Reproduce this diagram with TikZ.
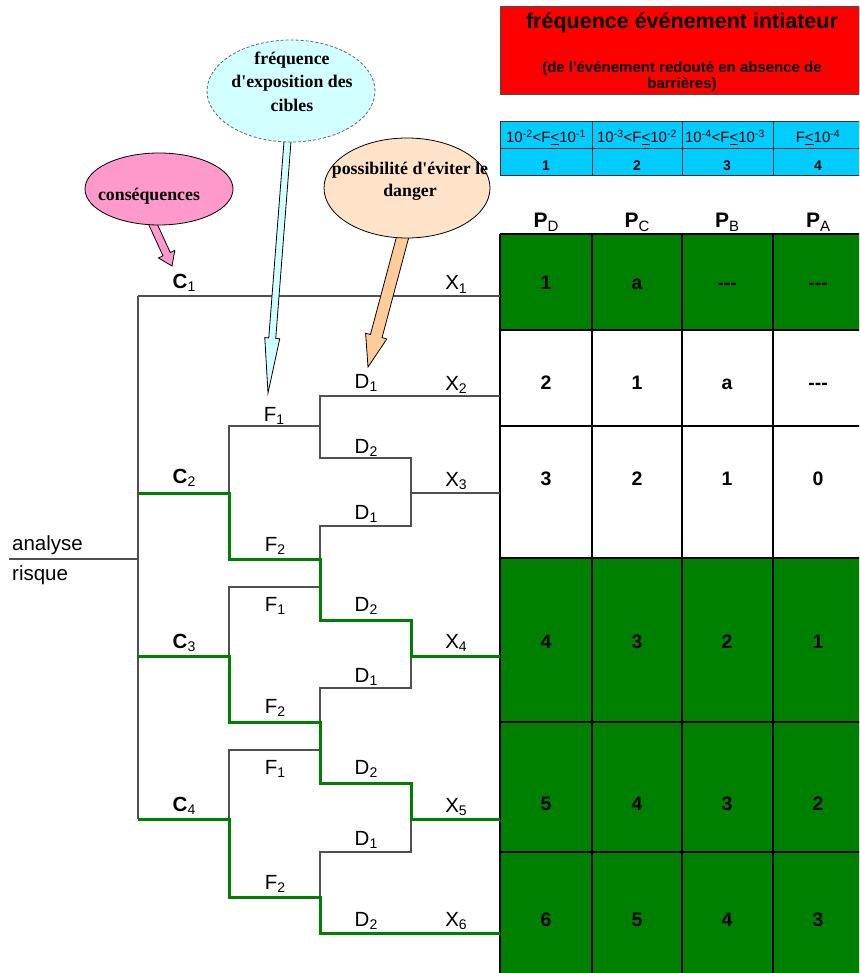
\documentclass[tikz,border=0pt]{standalone}
\usepackage{fontspec}
\setmainfont{Liberation Sans}
\newfontfamily\serifb{Liberation Serif}
\usetikzlibrary{calc,shapes.geometric}
\definecolor{tgreen}{HTML}{008000}
\definecolor{pinkc}{HTML}{FF99CC}
\definecolor{pinkl}{HTML}{FFCCE6}
\definecolor{cyanl}{HTML}{D2FFFF}
\definecolor{orangec}{HTML}{FFCC99}
\definecolor{orangel}{HTML}{FFE3C8}
\definecolor{bluec}{HTML}{00CCFF}
\definecolor{grayline}{HTML}{505050}
\newcommand\sub[1]{\raisebox{-0.15em}{\fontsize{14}{14}\selectfont\mdseries #1}}
\newcommand\hsub[1]{\raisebox{-0.15em}{\fontsize{15}{15}\selectfont\mdseries #1}}
\newcommand\blkarrow[6]{%
  \coordinate (ba-h) at ($(#3)!#6!(#2)$);
  \draw[#1] ($(#2)!#4!90:(#3)$) -- ($(ba-h)!#4!-90:(#2)$) -- ($(ba-h)!#5!-90:(#2)$) -- (#3)
    -- ($(ba-h)!#5!90:(#2)$) -- ($(ba-h)!#4!90:(#2)$) -- ($(#2)!#4!-90:(#3)$) -- cycle;}
\begin{document}
\begin{tikzpicture}[x=1pt,y=-1pt,
  gl/.style={draw=grayline,line width=1.2pt},
  gr/.style={draw=tgreen,line width=3pt},
  lab/.style={anchor=base,inner sep=0pt,font=\fontsize{20.5}{24}\selectfont},
  num/.style={anchor=base,inner sep=0pt,font=\bfseries\fontsize{19.5}{23}\selectfont},
  hdr/.style={anchor=base,inner sep=0pt,font=\bfseries\fontsize{21}{24}\selectfont},
  tgrid/.style={draw=black,line width=1.2pt},
  ell/.style={ellipse,draw=black,line width=0.8pt,inner sep=0pt},
  etext/.style={anchor=base,inner sep=0pt,font=\serifb\bfseries\fontsize{17.8}{21}\selectfont},
]
\useasboundingbox (0,0) rectangle (859,973);
\clip (0,0) rectangle (859,973);
\fill[white] (0,0) rectangle (859,973);

% ---------- top red box ----------
\draw[fill=red,draw=black!70,line width=1pt] (500,7) rectangle (861,95);
\node[anchor=base,inner sep=0pt,font=\bfseries\fontsize{21.5}{24}\selectfont] (title) at (682,29) {fréquence événement intiateur};
\node[anchor=base,inner sep=0pt,font=\bfseries\fontsize{15}{18}\selectfont] (subt1) at (682,73) {(de l\textquotesingle événement redouté en absence de};
\node[anchor=base,inner sep=0pt,font=\bfseries\fontsize{15}{18}\selectfont] (subt2) at (682,89) {barrières)};

% ---------- blue frequency table ----------
\draw[fill=bluec,draw=black!80,line width=1pt] (500,122) rectangle (861,176);
\draw[draw=black!80,line width=1pt] (500,149) -- (861,149)
  (592,122) -- (592,176) (682,122) -- (682,176) (773,122) -- (773,176);
\begin{scope}[every node/.style={anchor=base,inner sep=0pt,font=\fontsize{15}{16}\selectfont}]
\node (f1) at (546,143) {10\textsuperscript{-2}<F\underline{<}10\textsuperscript{-1}};
\node (f2) at (637,143) {10\textsuperscript{-3}<F\underline{<}10\textsuperscript{-2}};
\node (f3) at (725,143) {10\textsuperscript{-4}<F\underline{<}10\textsuperscript{-3}};
\node (f4) at (818,143) {F\underline{<}10\textsuperscript{-4}};
\end{scope}
\begin{scope}[every node/.style={anchor=base,inner sep=0pt,font=\bfseries\fontsize{14}{15}\selectfont}]
\node (n1) at (546,171) {1};
\node (n2) at (637,171) {2};
\node (n3) at (727,171) {3};
\node (n4) at (818,171) {4};
\end{scope}

% ---------- risk table ----------
\fill[tgreen] (500,234) rectangle (861,330);
\fill[tgreen] (500,558) rectangle (861,980);
\draw[tgrid] (500,234) -- (861,234) (500,330) -- (861,330) (500,426) -- (861,426)
  (500,558) -- (861,558) (500,722) -- (861,722) (500,852) -- (861,852);
\draw[tgrid] (500,234) -- (500,980) (592,234) -- (592,980) (682,234) -- (682,980) (773,234) -- (773,980);
\node[hdr] (pd) at (546,228) {P\hsub{D}};
\node[hdr] (pc) at (637,228) {P\hsub{C}};
\node[hdr] (pb) at (727,228) {P\hsub{B}};
\node[hdr] (pa) at (818,228) {P\hsub{A}};
\node[num] (r1a) at (546,289) {1};   \node[num] (r1b) at (637,289) {a};
\node[num] (r1c) at (727,289) {-{}-{}-}; \node[num] (r1d) at (818,289) {-{}-{}-};
\node[num] (r2a) at (546,389) {2};   \node[num] (r2b) at (637,389) {1};
\node[num] (r2c) at (727,389) {a};   \node[num] (r2d) at (818,389) {-{}-{}-};
\node[num] (r3a) at (546,485) {3};   \node[num] (r3b) at (637,485) {2};
\node[num] (r3c) at (727,485) {1};   \node[num] (r3d) at (818,485) {0};
\node[num] (r4a) at (546,648) {4};   \node[num] (r4b) at (637,648) {3};
\node[num] (r4c) at (727,648) {2};   \node[num] (r4d) at (818,648) {1};
\node[num] (r5a) at (546,810) {5};   \node[num] (r5b) at (637,810) {4};
\node[num] (r5c) at (727,810) {3};   \node[num] (r5d) at (818,810) {2};
\node[num] (r6a) at (546,926) {6};   \node[num] (r6b) at (637,926) {5};
\node[num] (r6c) at (727,926) {4};   \node[num] (r6d) at (818,926) {3};

% ---------- tree coordinates ----------
\coordinate (ar) at (9,559);   \coordinate (root) at (138,559);
\coordinate (c1) at (138,296); \coordinate (c2) at (138,493);
\coordinate (c3) at (138,656); \coordinate (c4) at (138,819);
\coordinate (e1) at (500,296); \coordinate (e2) at (500,396); \coordinate (e3) at (500,493);
\coordinate (e4) at (500,656); \coordinate (e5) at (500,819); \coordinate (e6) at (500,933);
\coordinate (f2a) at (229,426); \coordinate (c2F) at (229,493); \coordinate (f2b) at (229,559);
\coordinate (f3a) at (229,587); \coordinate (c3F) at (229,656); \coordinate (f3b) at (229,722);
\coordinate (f4a) at (229,750); \coordinate (c4F) at (229,819); \coordinate (f4b) at (229,897);
\coordinate (d1) at (320,396); \coordinate (j1) at (320,426); \coordinate (d2) at (320,458);
\coordinate (d3) at (320,526); \coordinate (j2) at (320,559); \coordinate (j3) at (320,587);
\coordinate (d4) at (320,620); \coordinate (d5) at (320,688); \coordinate (j4) at (320,722);
\coordinate (j5) at (320,750); \coordinate (d6) at (320,783); \coordinate (d7) at (320,852);
\coordinate (j6) at (320,897); \coordinate (d8) at (320,933);
\coordinate (x3a) at (411,458); \coordinate (x3) at (411,493); \coordinate (x3b) at (411,526);
\coordinate (x4a) at (411,620); \coordinate (x4) at (411,656); \coordinate (x4b) at (411,688);
\coordinate (x5a) at (411,783); \coordinate (x5) at (411,819); \coordinate (x5b) at (411,852);

% gray branches
\draw[gl] (ar) -- (root);
\draw[gl] (c1) -- (c4);
\draw[gl] (c1) -- (e1);
\draw[gl] (c2F) -- (f2a) -- (j1);
\draw[gl] (e2) -- (d1) -- (d2) -- (x3a) -- (x3b) -- (d3) -- (j2);
\draw[gl] (x3) -- (e3);
\draw[gl] (c3F) -- (f3a) -- (j3);
\draw[gl] (x4) -- (x4b) -- (d5) -- (j4);
\draw[gl] (c4F) -- (f4a) -- (j5);
\draw[gl] (x5) -- (x5b) -- (d7) -- (j6);
% green paths
\draw[gr] (c2) -- (c2F) -- (f2b) -- (j2) -- (d4) -- (x4a) -- (x4) -- (e4);
\draw[gr] (c3) -- (c3F) -- (f3b) -- (j4) -- (d6) -- (x5a) -- (x5) -- (e5);
\draw[gr] (c4) -- (c4F) -- (f4b) -- (j6) -- (d8) -- (e6);

% ---------- tree labels ----------
\node[lab,anchor=base west] (an) at (12,550) {analyse};
\node[lab,anchor=base west] (ri) at (12,580) {risque};
\node[lab] (C1) at (184,288) {\textbf{C}\sub{1}};
\node[lab] (C2) at (184,483) {\textbf{C}\sub{2}};
\node[lab] (C3) at (184,648) {\textbf{C}\sub{3}};
\node[lab] (C4) at (184,811) {\textbf{C}\sub{4}};
\node[lab] (X1) at (456,290) {X\sub{1}};
\node[lab] (X2) at (456,390) {X\sub{2}};
\node[lab] (X3) at (456,486) {X\sub{3}};
\node[lab] (X4) at (456,648) {X\sub{4}};
\node[lab] (X5) at (456,812) {X\sub{5}};
\node[lab] (X6) at (456,926) {X\sub{6}};
\node[lab] (F1a) at (274,421) {F\sub{1}};
\node[lab] (F2a) at (275,551) {F\sub{2}};
\node[lab] (F1b) at (275,611) {F\sub{1}};
\node[lab] (F2b) at (275,713) {F\sub{2}};
\node[lab] (F1c) at (275,774) {F\sub{1}};
\node[lab] (F2c) at (275,889) {F\sub{2}};
\node[lab] (D1a) at (366,388) {D\sub{1}};
\node[lab] (D2a) at (366,453) {D\sub{2}};
\node[lab] (D1b) at (366,519) {D\sub{1}};
\node[lab] (D2b) at (366,611) {D\sub{2}};
\node[lab] (D1c) at (366,682) {D\sub{1}};
\node[lab] (D2c) at (366,774) {D\sub{2}};
\node[lab] (D1d) at (366,845) {D\sub{1}};
\node[lab] (D2d) at (366,926) {D\sub{2}};

% ---------- block arrows ----------
\coordinate (pA) at (151,220); \coordinate (pB) at (172,266);
\coordinate (cA) at (288,135); \coordinate (cB) at (268,393);
\coordinate (oA) at (404,232); \coordinate (oB) at (368,367);
\blkarrow{fill=pinkc,draw=black,line width=0.8pt}{pA}{pB}{4pt}{9pt}{13pt}
\blkarrow{fill=cyanl,draw=black,line width=0.8pt}{cA}{cB}{3.5pt}{7.5pt}{55pt}
\blkarrow{fill=orangec,draw=black,line width=0.8pt}{oA}{oB}{6pt}{11pt}{32pt}

% ---------- ellipses ----------
\node[ell,fill=pinkc,minimum width=148,minimum height=72,
  path picture={\fill[pinkl] (87,180) rectangle (227,210);}] (conseq) at (159,189) {};
\node[ell,fill=cyanl,draw=black!60,densely dashed,minimum width=168,minimum height=102] (freqexp) at (291,91) {};
\node[ell,fill=orangel,minimum width=166,minimum height=100,
  path picture={\fill[orangec] (320,130) rectangle (495,153);}] (possib) at (407,188) {};

\node[etext] (tc) at (149,201) {conséquences};
\node[etext] (tf1) at (292,65) {fréquence};
\node[etext] (tf2) at (292,88) {d\textquotesingle exposition des};
\node[etext] (tf3) at (292,112) {cibles};
\node[etext] (tp1) at (410,175) {possibilité d\textquotesingle éviter le};
\node[etext] (tp2) at (410,197) {danger};
\end{tikzpicture}
\end{document}
